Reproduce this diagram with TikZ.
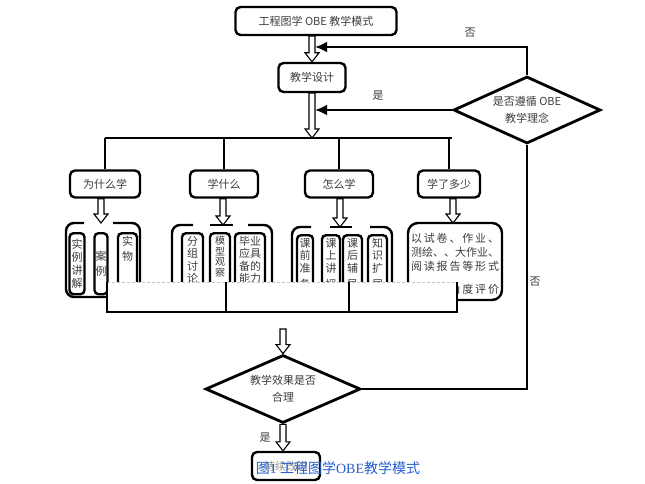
\documentclass[tikz,border=0pt]{standalone}
\usepackage{fontspec}
\setmainfont{Noto Sans CJK SC}
\newfontfamily\capfont{Liberation Serif}
\usetikzlibrary{positioning,calc,shapes.geometric,arrows.meta}
\definecolor{labelgray}{RGB}{60,60,60}
\definecolor{captionblue}{RGB}{40,95,205}
\tikzset{%
  tnode/.style={%
    line width=2.4pt,
    draw=black,
    rounded corners=5pt,
    text=labelgray,
    inner sep=0pt,
    font=\fontsize{11}{13}\selectfont
  },
  vnode/.style={%
    tnode,
    anchor=north,
    align=center,
    inner xsep=0pt,
    inner ysep=3pt,
    rounded corners=4pt
  },
  dnode/.style={%
    line width=2.8pt,
    draw=black,
    diamond,
    aspect=2.3,
    inner sep=0pt,
    align=center,
    text=labelgray,
    font=\fontsize{11}{17}\selectfont
  },
  lnode/.style={%
    text=labelgray,
    font=\fontsize{11}{13}\selectfont
  },
  cline/.style={line width=2.8pt},
  gline/.style={line width=2.4pt, rounded corners=8pt},
  harrow/.style={draw=black, fill=white, line width=1.1pt}
}
\newcommand\hollowarr[2]{%
  \draw[harrow] let \p1=(#1), \p2=(#2) in
    (\x1-3pt,\y1) -- (\x1-3pt,\y2+9pt) -- (\x1-7pt,\y2+9pt) -- (\x1,\y2)
    -- (\x1+7pt,\y2+9pt) -- (\x1+3pt,\y2+9pt) -- (\x1+3pt,\y1) -- cycle;}

\begin{document}
\begin{tikzpicture}[x=1pt,y=-1pt]
      \fill[white] (0,0) rectangle (645,484);
      \useasboundingbox (0,0) rectangle (645,484);

      % top part
      \node[tnode, minimum width=161pt, minimum height=28pt] (top) at (316,21) {工程图学 OBE 教学模式};
      \node[tnode, minimum width=67pt, minimum height=29pt] (design) at (312,77.5) {教学设计};
      \node[dnode, minimum width=147pt, minimum height=67pt] (obe) at (527,110) {是否遵循 OBE\\教学理念};
      \coordinate (fbno) at (315,47);
      \coordinate (fbyes) at (315,110);
      \coordinate (split) at (312,138);
      \coordinate (bl) at (105,138);
      \coordinate (br) at (452,138);

      % four questions
      \node[tnode, minimum width=70pt, minimum height=27pt] (why)  at (105,184) {为什么学};
      \node[tnode, minimum width=68pt, minimum height=27pt] (what) at (224,184) {学什么};
      \node[tnode, minimum width=68pt, minimum height=27pt] (how)  at (339,184) {怎么学};
      \node[tnode, minimum width=62pt, minimum height=27pt] (much) at (449,184) {学了多少};

      \coordinate (g1) at (101,223);
      \coordinate (g2) at (223,225);
      \coordinate (g3) at (340,227);
      \coordinate (g4) at (453,223);

      % brackets
      \draw[gline] (84,223) -| (66,297) -- (107,297);
      \draw[gline] (113,223) -| (140,290);
      \draw[gline] (193,225) -| (172,300);
      \draw[gline] (210,225) -- (233,225);
      \draw[gline] (248,225) -| (272,300);
      \draw[gline] (311,227) -| (292,300);
      \draw[gline] (330,227) -- (352,227);
      \draw[gline] (370,227) -| (392,300);

      % why
      \node[vnode, minimum width=15pt, minimum height=61pt] (b11) at (77,232) {实\\例\\讲\\解};
      \node[vnode, minimum width=13pt, minimum height=61pt, font=\fontsize{11}{15}\selectfont] (b12) at (101,232) {案\\例};
      \node[vnode, minimum width=19pt, font=\fontsize{11}{15}\selectfont] (b13) at (127.5,232) {实\\物\\\phantom{实}\\\phantom{实}};
      % what
      \node[vnode, minimum width=21pt, font=\fontsize{11}{12.5}\selectfont] (b21) at (192.5,232) {分\\组\\讨\\论\\\phantom{分}};
      \node[vnode, minimum width=20pt, font=\fontsize{10}{10.5}\selectfont] (b22) at (220,232) {模\\型\\观\\察\\\phantom{模}\\\phantom{模}};
      \node[vnode, minimum width=30pt, font=\fontsize{11}{12.5}\selectfont] (b23) at (250,232) {毕业\\应具\\备的\\能力\\\phantom{能}};
      % how
      \node[vnode, minimum width=16pt, font=\fontsize{11}{12.5}\selectfont] (b31) at (305,234) {课\\前\\准\\[4pt]备\\\phantom{课}};
      \node[vnode, minimum width=18pt, font=\fontsize{11}{12.5}\selectfont] (b32) at (331,234) {课\\上\\讲\\[4pt]授\\\phantom{课}};
      \node[vnode, minimum width=19pt, font=\fontsize{11}{12.5}\selectfont] (b33) at (352.5,234) {课\\后\\辅\\[4pt]导\\\phantom{课}};
      \node[vnode, minimum width=19pt, font=\fontsize{11}{12.5}\selectfont] (b34) at (377.5,234) {知\\识\\扩\\[4pt]展\\\phantom{知}};
      % how much
      \node[tnode, rounded corners=10pt, minimum width=94pt, minimum height=77pt,
            align=left, inner xsep=3pt, font=\fontsize{11}{14}\selectfont] (eval) at (455,261.5)
        {\rule{0pt}{14pt}\makebox[88pt][s]{以\hfil 试\hfil 卷\hfil 、\hfil 作\hfil 业\hfil 、}\\
         \makebox[88pt][s]{测\hfil 绘\hfil 、\hfil 、\hfil 大\hfil 作\hfil 业\hfil 、}\\
         \makebox[88pt][s]{阅\hfil 读\hfil 报\hfil 告\hfil 等\hfil 形\hfil 式}\\[9pt]
         \makebox[88pt][s]{进\hfil 行\hfil 多\hfil 角\hfil 度\hfil 评\hfil 价}};

      % merge
      \fill[white] (107,282) rectangle (457,312);
      \draw[gray!45, densely dashed, line width=0.5pt] (107,282) -- (457,282);
      \coordinate (m1) at (107,282);
      \coordinate (m2) at (226,282);
      \coordinate (m3) at (349,282);
      \coordinate (m4) at (457,282);
      \coordinate (n1) at (107,312);
      \coordinate (n4) at (457,312);
      \draw[cline] (m1) -- (n1) -- (n4) -- (m4);
      \draw[cline] (m2) -- (m2 |- n1);
      \draw[cline] (m3) -- (m3 |- n1);

      % bottom part
      \coordinate (fin) at (283,329);
      \node[dnode, minimum width=155pt, minimum height=68pt] (ef) at (283,389) {教学效果是否\\合理};
      \node[tnode, minimum width=68pt, minimum height=28pt, text=black!45] (keep) at (286,466) {持续改进};

      \hollowarr{top.south -| design}{design.north}
      \hollowarr{design.south}{split}
      \hollowarr{g1 |- why.south}{g1}
      \hollowarr{g2 |- what.south}{g2}
      \hollowarr{g3 |- how.south}{g3}
      \hollowarr{g4 |- much.south}{g4}
      \hollowarr{fin}{ef.north}
      \hollowarr{ef.south}{keep.north}

      \draw[cline] (bl) -- (br);
      \draw[cline] (bl) -- (why.north);
      \draw[cline] (what.north |- bl) -- (what.north);
      \draw[cline] (how.north |- bl) -- (how.north);
      \draw[cline] (much.north |- bl) -- (much.north);

      \draw[cline, -{Latex[length=12pt,width=11pt]}] (obe.north) |- (fbno);
      \draw[cline, -{Latex[length=12pt,width=11pt]}] (obe.west) -- (fbyes);
      \draw[cline] (ef.east) -| (obe.south);

      \node[lnode] (no1)  at (470,33)  {否};
      \node[lnode] (yes1) at (378,96)  {是};
      \node[lnode] (no2)  at (535,282) {否};
      \node[lnode] (yes2) at (265,438) {是};

      \node[text=captionblue, font=\fontsize{14}{16}\selectfont] (cap) at (338,468)
        {图{\capfont 1} 工程图学{\capfont OBE}教学模式};
    \end{tikzpicture}
\end{document}
